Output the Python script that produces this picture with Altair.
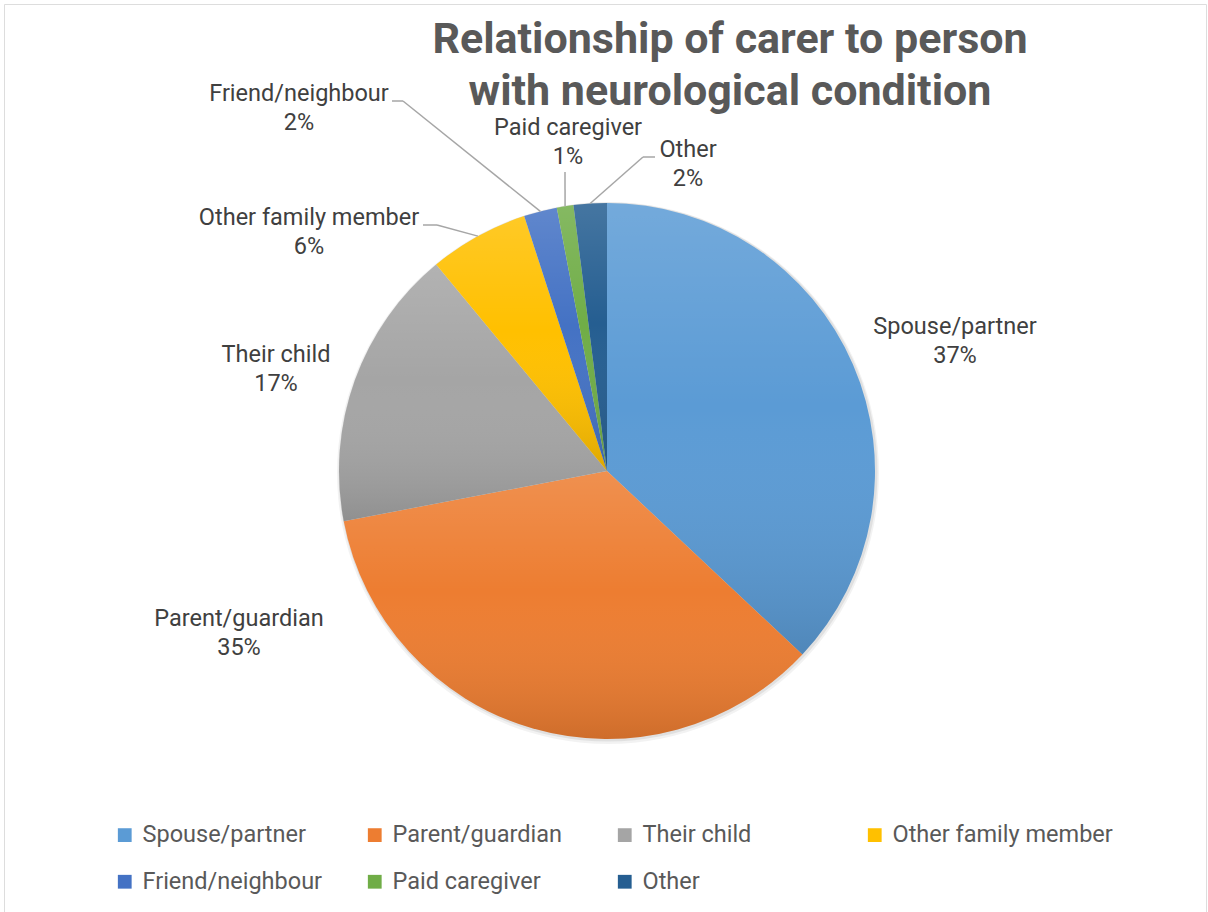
import altair as alt
import pandas as pd

# Share of carers by relationship to the person with a neurological condition (%)
categories = [
    "Spouse/partner",
    "Parent/guardian",
    "Their child",
    "Other family member",
    "Friend/neighbour",
    "Paid caregiver",
    "Other",
]
shares = [37, 35, 17, 6, 2, 1, 2]
palette = ["#5B9BD5", "#ED7D31", "#A5A5A5", "#FFC000", "#4472C4", "#70AD47", "#255E91"]

title_lines = ["Relationship of carer to person", "with neurological condition"]

# Layout (view pixels)
W, H = 1202, 908
CX, CY, R = 603, 467, 268
FONT = "Roboto"
LABEL_SIZE = 23.5

# Centre of the first line of each two-line data label
label_x = [951, 235, 272, 305, 295, 564, 684]
label_y = [323, 615, 351, 214, 90, 124, 146]

# Leader lines: label anchor -> elbow, then elbow -> slice edge
leaders = {
    "Other family member": (419, 221, 433, 221),
    "Friend/neighbour": (388, 97, 399, 97),
    "Paid caregiver": (561, 168, 561, 168),
    "Other": (651, 153, 639, 153),
}

df = pd.DataFrame({"category": categories, "share": shares, "order": list(range(len(categories)))})
df["lx"] = label_x
df["ly"] = label_y
df["ax"] = [leaders.get(c, (None,) * 4)[0] for c in categories]
df["ay"] = [leaders.get(c, (None,) * 4)[1] for c in categories]
df["bx"] = [leaders.get(c, (None,) * 4)[2] for c in categories]
df["by"] = [leaders.get(c, (None,) * 4)[3] for c in categories]

base = alt.Chart(df)

theta = alt.Theta("share:Q", stack=True)
order = alt.Order("order:Q", sort="ascending")

# soft shadow around the pie
one = pd.DataFrame({"k": [0]})
shadow = alt.Chart(one).mark_arc(
    theta=0, theta2=6.2832, outerRadius=R + 3, fill="#000000", opacity=0.05
).encode(x=alt.value(CX + 1), y=alt.value(CY + 2))
shadow2 = alt.Chart(one).mark_arc(
    theta=0, theta2=6.2832, outerRadius=R + 1.5, fill="#000000", opacity=0.07
).encode(x=alt.value(CX + 1), y=alt.value(CY + 1))

slices = base.mark_arc(outerRadius=R, strokeWidth=0).encode(
    theta=theta,
    order=order,
    color=alt.Color(
        "category:N",
        scale=alt.Scale(domain=categories, range=palette),
        legend=alt.Legend(
            title=None,
            orient="none",
            legendX=109,
            legendY=819,
            columns=4,
            direction="horizontal",
            gridAlign="all",
            columnPadding=-14,
            rowPadding=22,
            symbolType="square",
            symbolSize=190,
            symbolStrokeWidth=0,
            labelFont=FONT,
            labelFontSize=LABEL_SIZE,
            labelColor="#595959",
            labelOffset=6,
            labelLimit=400,
            padding=0,
        ),
    ),
    x=alt.value(CX),
    y=alt.value(CY),
)

# light-to-dark sheen applied to each slice's own bounds
sheen = alt.LinearGradient(
    gradient="linear",
    x1=0, y1=0, x2=0, y2=1,
    stops=[
        alt.GradientStop(color="rgba(255,255,255,0.15)", offset=0),
        alt.GradientStop(color="rgba(255,255,255,0.0)", offset=0.45),
        alt.GradientStop(color="rgba(0,0,0,0.13)", offset=1),
    ],
)
shade = base.mark_arc(outerRadius=R, strokeWidth=0, fill=sheen).encode(
    theta=theta,
    order=order,
    detail="category:N",
    x=alt.value(CX),
    y=alt.value(CY),
)

geom = (
    base.transform_joinaggregate(total="sum(share)")
    .transform_window(cum="sum(share)", sort=[alt.SortField("order")], frame=[None, 0])
    .transform_calculate(
        mid="(datum.cum - datum.share / 2) / datum.total * 2 * PI",
        ex=f"{CX} + {R} * sin(datum.mid)",
        ey=f"{CY} - {R} * cos(datum.mid)",
    )
    .transform_filter("isValid(datum.ax)")
)

lead1 = geom.mark_rule(color="#a6a6a6", strokeWidth=1.5).encode(
    x=alt.X("ax:Q", scale=None),
    x2="bx:Q",
    y=alt.Y("ay:Q", scale=None),
    y2="by:Q",
)
lead2 = geom.mark_rule(color="#a6a6a6", strokeWidth=1.5).encode(
    x=alt.X("bx:Q", scale=None),
    x2="ex:Q",
    y=alt.Y("by:Q", scale=None),
    y2="ey:Q",
)

labels = (
    base.transform_calculate(txt="datum.category + '\\n' + datum.share + '%'")
    .mark_text(
        font=FONT,
        fontSize=LABEL_SIZE,
        color="#404040",
        align="center",
        baseline="middle",
        lineBreak="\n",
        lineHeight=29,
    )
    .encode(
        x=alt.X("lx:Q", scale=None),
        y=alt.Y("ly:Q", scale=None),
        text="txt:N",
    )
)

title = (
    alt.Chart(pd.DataFrame({"t": ["\n".join(title_lines)]}))
    .mark_text(
        font=FONT,
        fontSize=43,
        fontWeight="bold",
        color="#595959",
        align="center",
        baseline="alphabetic",
        lineBreak="\n",
        lineHeight=52,
    )
    .encode(x=alt.value(726), y=alt.value(49), text="t:N")
)

chart = (
    alt.layer(shadow, shadow2, slices, shade, lead1, lead2, labels, title)
    .properties(width=W, height=H, padding={"left": 4, "top": 4, "right": 2, "bottom": 0})
    .configure_view(stroke="#d9d9d9", strokeWidth=1)
    .configure(background="white")
)

chart.save("out.html", embed_options={"renderer": "svg", "actions": False})
